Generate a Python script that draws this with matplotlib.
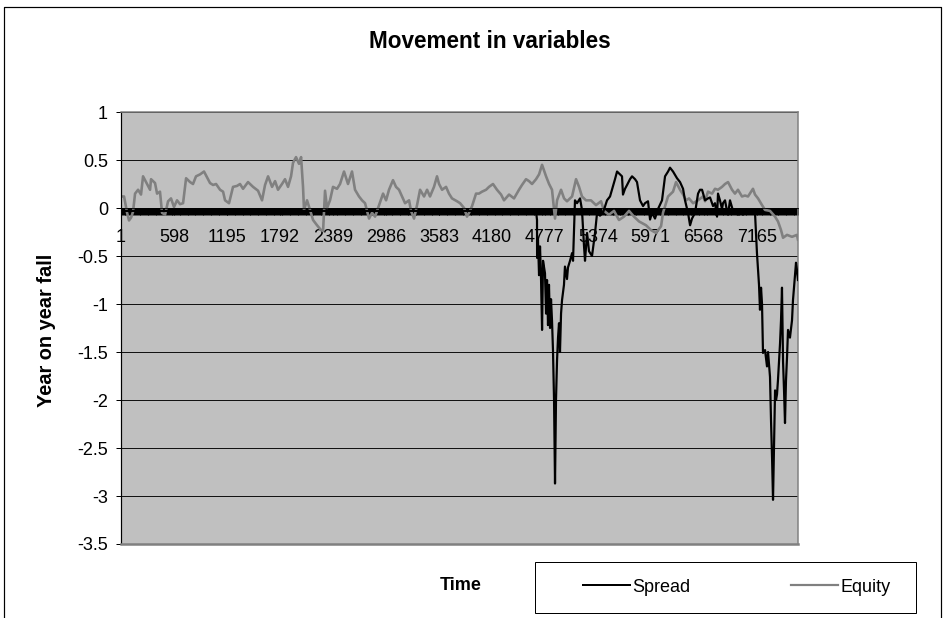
import matplotlib
matplotlib.use("Agg")
import matplotlib.pyplot as plt
from matplotlib.ticker import MultipleLocator, FixedLocator
from matplotlib.patches import Rectangle
from matplotlib.lines import Line2D

plt.rcParams["font.family"] = ["Liberation Sans", "DejaVu Sans"]

# ---- data (category index, value) -------------------------------------------
EQUITY = [
    (1, 0.12), (35, 0.12), (69, -0.05), (91, -0.13), (114, -0.10), (136, -0.04),
    (159, 0.15), (193, 0.19), (226, 0.14), (249, 0.33), (283, 0.27), (328, 0.19),
    (339, 0.30), (384, 0.26), (407, 0.15), (440, 0.17), (463, -0.05), (497, -0.07),
    (531, 0.07), (564, 0.10), (598, 0.01), (632, 0.08), (666, 0.04), (700, 0.05),
    (734, 0.31), (779, 0.27), (812, 0.25), (846, 0.33), (891, 0.35), (936, 0.38),
    (959, 0.34), (1004, 0.26), (1038, 0.24), (1072, 0.25), (1117, 0.19), (1151, 0.17),
    (1173, 0.08), (1218, 0.05), (1263, 0.22), (1308, 0.23), (1342, 0.25), (1376, 0.20),
    (1432, 0.27), (1489, 0.22), (1545, 0.18), (1590, 0.08), (1624, 0.24), (1658, 0.33),
    (1703, 0.22), (1737, 0.28), (1770, 0.19), (1815, 0.25), (1849, 0.30), (1883, 0.22),
    (1917, 0.33), (1939, 0.47), (1973, 0.53), (2007, 0.46), (2030, 0.53), (2052, 0.22),
    (2063, -0.02), (2097, 0.08), (2131, -0.02), (2165, -0.125), (2210, -0.18), (2255, -0.23),
    (2278, -0.24), (2300, 0.18), (2323, 0.00), (2356, 0.08), (2390, 0.22), (2435, 0.20),
    (2469, 0.25), (2514, 0.38), (2559, 0.25), (2604, 0.38), (2638, 0.19), (2683, 0.12),
    (2717, 0.08), (2751, 0.05), (2796, -0.11), (2830, -0.05), (2864, -0.09), (2909, 0.03),
    (2954, 0.15), (2988, 0.08), (3021, 0.19), (3066, 0.29), (3100, 0.22), (3134, 0.19),
    (3168, 0.12), (3202, 0.05), (3247, 0.08), (3269, -0.03), (3303, -0.11), (3337, 0.03),
    (3371, 0.19), (3416, 0.12), (3450, 0.19), (3483, 0.12), (3528, 0.22), (3562, 0.33),
    (3585, 0.25), (3619, 0.19), (3664, 0.22), (3697, 0.15), (3731, 0.10), (3788, 0.07),
    (3822, 0.05), (3867, 0.00), (3900, -0.09), (3923, -0.05), (3957, 0.02), (4002, 0.15),
    (4035, 0.15), (4069, 0.17), (4115, 0.19), (4148, 0.22), (4193, 0.25), (4238, 0.19),
    (4284, 0.14), (4317, 0.08), (4374, 0.14), (4430, 0.10), (4486, 0.19), (4520, 0.24),
    (4565, 0.30), (4599, 0.28), (4633, 0.25), (4678, 0.30), (4712, 0.35), (4746, 0.45),
    (4791, 0.33), (4825, 0.25), (4858, 0.19), (4892, -0.11), (4915, 0.08), (4960, 0.19),
    (4994, 0.10), (5027, 0.07), (5084, 0.12), (5129, 0.30), (5163, 0.22), (5196, 0.12),
    (5241, 0.08), (5297, 0.08), (5354, 0.03), (5411, 0.07), (5444, -0.03), (5500, -0.07),
    (5557, -0.03), (5613, -0.125), (5669, -0.09), (5726, -0.03), (5782, -0.09), (5839, -0.14),
    (5918, -0.18), (5974, -0.23), (6030, -0.26), (6087, -0.19), (6109, -0.05), (6166, 0.12),
    (6222, 0.17), (6256, 0.27), (6301, 0.19), (6335, 0.14), (6369, 0.08), (6402, 0.10),
    (6448, 0.05), (6504, 0.08), (6560, 0.12), (6583, 0.07), (6616, 0.17), (6662, 0.15),
    (6695, 0.20), (6729, 0.19), (6774, 0.22), (6808, 0.25), (6842, 0.27), (6887, 0.19),
    (6920, 0.15), (6954, 0.19), (6999, 0.12), (7033, 0.13), (7067, 0.12), (7123, 0.20),
    (7146, 0.14), (7180, 0.10), (7225, 0.03), (7259, -0.02), (7315, -0.03), (7372, -0.09),
    (7405, -0.14), (7439, -0.23), (7462, -0.31), (7507, -0.28), (7563, -0.30), (7619, -0.28),
    (7630, -0.33),
]

SPREAD = [
    (1, -0.03), (4678, -0.03), (4689, -0.125), (4690, -0.52), (4700, -0.33), (4712, -0.70),
    (4723, -0.40), (4734, -0.72), (4746, -1.27), (4757, -0.55), (4779, -0.68), (4791, -1.10),
    (4802, -0.75), (4813, -1.22), (4824, -0.80), (4836, -1.25), (4847, -0.95), (4858, -1.17),
    (4869, -1.48), (4881, -2.0), (4892, -2.87), (4903, -2.0), (4915, -1.58), (4926, -1.35),
    (4937, -1.20), (4948, -1.50), (4960, -1.10), (4971, -0.96), (4993, -0.80), (5004, -0.61),
    (5027, -0.74), (5038, -0.62), (5061, -0.55), (5084, -0.47), (5095, -0.55), (5117, 0.08),
    (5140, 0.05), (5174, 0.10), (5196, -0.02), (5219, -0.40), (5230, -0.55), (5253, -0.26),
    (5275, -0.45), (5309, -0.50), (5343, -0.26), (5366, -0.05), (5399, -0.08), (5433, -0.05),
    (5478, 0.08), (5512, 0.12), (5534, 0.19), (5568, 0.30), (5591, 0.38), (5624, 0.35),
    (5647, 0.33), (5658, 0.14), (5681, 0.20), (5704, 0.24), (5737, 0.30), (5760, 0.33),
    (5794, 0.30), (5816, 0.27), (5850, 0.08), (5884, 0.02), (5906, 0.05), (5940, 0.07),
    (5963, -0.12), (5985, -0.05), (6019, -0.11), (6053, -0.01), (6098, 0.08), (6132, 0.33),
    (6166, 0.38), (6188, 0.42), (6222, 0.38), (6267, 0.31), (6301, 0.27), (6335, 0.20),
    (6357, 0.08), (6391, -0.05), (6414, -0.18), (6436, -0.11), (6470, -0.05), (6504, 0.15),
    (6526, 0.19), (6549, 0.19), (6583, 0.08), (6616, 0.10), (6639, 0.11), (6673, 0.02),
    (6695, 0.05), (6718, -0.09), (6729, 0.15), (6751, 0.08), (6774, -0.01), (6785, 0.05),
    (6808, 0.08), (6830, -0.03), (6842, -0.07), (6864, 0.08), (6898, -0.03), (6920, -0.05),
    (6954, -0.07), (6977, -0.02), (7010, -0.07), (7044, -0.03), (7067, -0.05), (7112, -0.04),
    (7146, -0.05), (7168, -0.47), (7191, -0.80), (7202, -1.06), (7214, -0.83), (7225, -1.0),
    (7236, -1.51), (7259, -1.48), (7281, -1.65), (7293, -1.50), (7315, -1.76), (7326, -2.2),
    (7338, -2.6), (7349, -3.04), (7360, -2.52), (7372, -1.9), (7383, -2.0), (7394, -1.94),
    (7405, -1.79), (7428, -1.41), (7439, -1.17), (7450, -0.83), (7462, -1.6), (7473, -1.9),
    (7484, -2.24), (7495, -1.80), (7507, -1.55), (7518, -1.27), (7540, -1.35), (7563, -1.17),
    (7574, -0.96), (7597, -0.70), (7608, -0.57), (7619, -0.65), (7630, -0.75),
]

N_POINTS = 7630
X_TICKS = [1, 598, 1195, 1792, 2389, 2986, 3583, 4180, 4777, 5374, 5971, 6568, 7165]
Y_TICKS = [1, 0.5, 0, -0.5, -1, -1.5, -2, -2.5, -3, -3.5]
Y_LABELS = ["1", "0.5", "0", "-0.5", "-1", "-1.5", "-2", "-2.5", "-3", "-3.5"]

W, H, DPI = 945, 618, 72
fig = plt.figure(figsize=(W / DPI, H / DPI), dpi=DPI)
fig.patch.set_facecolor("white")

# plot area in pixels: x 121..798, y 112..544
ax = fig.add_axes([121 / W, 1 - 544 / H, 677 / W, 432 / H])
ax.set_facecolor("#C0C0C0")

et, ev = zip(*EQUITY)
st, sv = zip(*SPREAD)
ax.plot(et, ev, color="#808080", lw=2.6, zorder=2)
ax.plot(st, sv, color="#000000", lw=2.2, zorder=3)

ax.set_xlim(0.5, N_POINTS + 0.5)
ax.set_ylim(-3.5, 1)

# y axis
ax.yaxis.set_major_locator(FixedLocator(Y_TICKS))
ax.set_yticklabels(Y_LABELS)
ax.grid(axis="y", color="black", lw=0.9)
ax.yaxis.set_zorder(0.5)
ax.tick_params(axis="y", direction="out", length=5, width=1, pad=8,
               labelsize=18, colors="black")

# x (category) axis crossing at zero, dense tick marks form the black band
ax.spines["bottom"].set_position(("data", 0))
ax.spines["bottom"].set_color("black")
ax.xaxis.set_major_locator(FixedLocator(X_TICKS))
ax.set_xticklabels([str(t) for t in X_TICKS])
ax.xaxis.set_minor_locator(MultipleLocator(10))
ax.tick_params(axis="x", which="both", direction="out", length=7, width=1,
               colors="black")
ax.tick_params(axis="x", which="major", pad=14, labelsize=18)

for side in ("top", "right"):
    ax.spines[side].set_color("#808080")
    ax.spines[side].set_linewidth(1.5)
ax.spines["left"].set_color("black")
ax.spines["left"].set_linewidth(1.2)
# bottom edge of plot area
ax.axhline(-3.5, color="#808080", lw=2.5, zorder=4, clip_on=False)

# titles
fig.text(490 / W, 1 - 42 / H, "Movement in variables", ha="center", va="center",
         fontsize=22.5, fontweight="bold")
fig.text(47 / W, 1 - 330 / H, "Year on year fall", ha="center", va="center",
         rotation=90, fontsize=20, fontweight="bold")
fig.text(461 / W, 1 - 585 / H, "Time", ha="center", va="center",
         fontsize=18, fontweight="bold")

# legend with its own box
fig.patches.append(Rectangle((535 / W, 1 - 613 / H), 381 / W, 51 / H,
                             transform=fig.transFigure, facecolor="white",
                             edgecolor="black", lw=1))
handles = [Line2D([], [], color="#000000", lw=2.0),
           Line2D([], [], color="#808080", lw=2.2)]
fig.legend(handles, ["Spread", "Equity"], loc="center",
           bbox_to_anchor=(737 / W, 1 - 587 / H), ncol=2, frameon=False,
           fontsize=18, handlelength=2.6, handletextpad=0.15, columnspacing=5.6)

# outer chart border
fig.add_artist(Line2D([4 / W, 4 / W, 941 / W, 941 / W], [0, 1 - 7 / H, 1 - 7 / H, 0],
                      transform=fig.transFigure, color="black", lw=1.2))

fig.savefig("out.png", dpi=DPI)
